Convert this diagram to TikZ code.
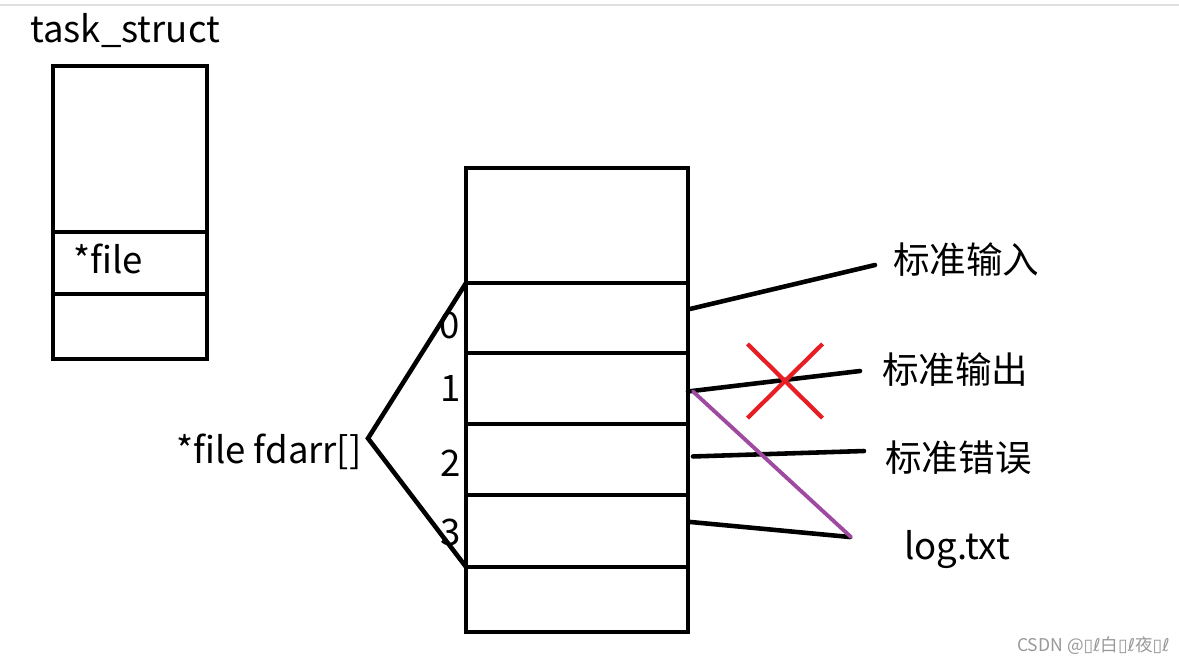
\documentclass[tikz,border=0pt]{standalone}
\usepackage{fontspec}
\setmainfont{Noto Sans CJK SC}
\newfontfamily\symfont{DejaVu Sans}
\usetikzlibrary{positioning,calc,shapes.misc}
\definecolor{crossred}{HTML}{E81E25}
\definecolor{logpurple}{HTML}{9E4AA0}
\definecolor{markgray}{HTML}{999999}
\tikzset{
  cellbox/.style={draw=black,line width=2.6pt,inner sep=0pt,outer sep=0pt,minimum width=4.44cm},
  slotbox/.style={draw=black,line width=2.6pt,inner sep=0pt,outer sep=0pt,minimum width=3.08cm},
  bigtext/.style={font=\fontsize{20.8}{24}\selectfont,inner sep=0pt},
  fdline/.style={line width=2.6pt,line cap=round},
  redirline/.style={line width=2.2pt,line cap=round,draw=logpurple}
}
\begin{document}
\begin{tikzpicture}[x=0.02cm,y=-0.02cm]
  \useasboundingbox (0,0) rectangle (1179,664);
  \draw[black!12,line width=1.2pt] (0,5) -- (1179,5);
  % task_struct
  \node[bigtext,anchor=base west] (tstitle) at (30,42) {task\_struct};
  \node[slotbox,minimum height=3.32cm] (tstop) at (130,149) {};
  \node[slotbox,minimum height=1.24cm,below=0pt of tstop] (tsfile) {};
  \node[slotbox,minimum height=1.3cm,below=0pt of tsfile] (tsbot) {};
  \node[bigtext,anchor=base west] (filetxt) at (73,273) {*file};
  % fd array
  \node[cellbox,minimum height=2.3cm] (fdtop) at (577,225.5) {};
  \node[cellbox,minimum height=1.4cm,below=0pt of fdtop] (fd0) {};
  \node[cellbox,minimum height=1.42cm,below=0pt of fd0] (fd1) {};
  \node[cellbox,minimum height=1.42cm,below=0pt of fd1] (fd2) {};
  \node[cellbox,minimum height=1.44cm,below=0pt of fd2] (fd3) {};
  \node[cellbox,minimum height=1.3cm,below=0pt of fd3] (fdbot) {};
  \node[bigtext] (idx0) at (450,325) {0};
  \node[bigtext] (idx1) at (451,388) {1};
  \node[bigtext] (idx2) at (451,463) {2};
  \node[bigtext] (idx3) at (451,532) {3};
  \node[bigtext,anchor=base east] (fdarr) at (362,463) {*file fdarr[]};
  \coordinate (tip) at ($(fdarr.east)+(6,-13)$);
  \draw[fdline,line cap=butt] (fd0.north west) -- (tip) -- (fd3.south west);
  % targets
  \node[bigtext,anchor=west] (stdin) at (893,260) {标准输入};
  \node[bigtext,anchor=west] (stdout) at (882,370) {标准输出};
  \node[bigtext,anchor=west] (stderr) at (885,458) {标准错误};
  \node[bigtext,anchor=west] (logtxt) at (904,550) {log.txt};
  \draw[fdline] ($(fd0.east)+(2,-9)$) -- ($(stdin.west)+(-18,5)$);
  \draw[fdline] ($(fd1.east)+(0,3)$) -- ($(stdout.west)+(-22,1)$);
  \draw[fdline] ($(fd2.east)+(5,-3)$) -- ($(stderr.west)+(-21,-7)$);
  \draw[fdline] ($(fd3.east)+(2,-9)$) -- ($(logtxt.west)+(-54,-13)$);
  \draw[redirline] ($(fd1.east)+(5,3)$) -- ($(logtxt.west)+(-53,-13)$);
  \node[cross out,draw=crossred,line width=2.4pt,inner sep=0pt,minimum width=1.42cm,
    minimum height=1.4cm] (nostdout) at (785,381) {};
  \node[font=\fontsize{10}{12}\selectfont,text=markgray,anchor=east,inner sep=0pt] (mark)
    at (1170,646) {CSDN @{\symfont ▯ℓ}白{\symfont ▯ℓ}夜{\symfont ▯ℓ}};
\end{tikzpicture}
\end{document}
